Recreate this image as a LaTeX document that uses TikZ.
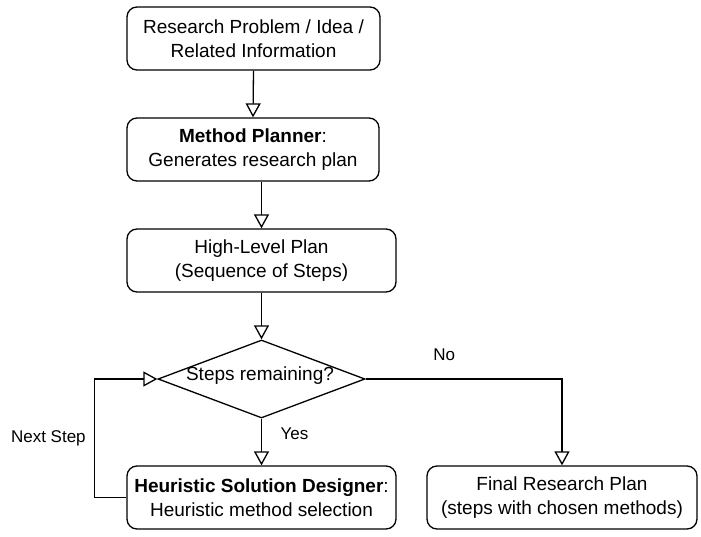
\documentclass[tikz,border=0pt]{standalone}
\usepackage{fontspec}
\setmainfont{Liberation Sans}
\usetikzlibrary{arrows.meta,shapes.geometric,calc}
\begin{document}
\begin{tikzpicture}[x=1pt,y=-1pt,
  every node/.style={font=\fontsize{19}{23.5}\selectfont, align=center},
  box/.style={draw, rounded corners=10pt, line width=1.3pt, minimum height=63pt, inner sep=0pt},
  decision/.style={draw, diamond, line width=1.3pt, minimum width=207pt, minimum height=78pt, inner sep=0pt, aspect=2.65},
  flow/.style={draw, line width=1.3pt, -{Triangle[open, length=14pt, width=15pt, fill=white]}},
  lbl/.style={inner sep=0pt, font=\fontsize{17}{20}\selectfont}]
\useasboundingbox (0,0) rectangle (701,537);
\node[box, minimum width=253pt] (b1) at (253.5,38.5) {Research Problem / Idea /\\Related Information};
\node[box, minimum width=252pt] (b2) at (253,149.5) {\textbf{Method Planner}:\\Generates research plan};
\node[box, minimum width=269pt] (b3) at (261.5,260.5) {High-Level Plan\\(Sequence of Steps)};
\node[decision] (d) at (261.5,379) {};
\node[inner sep=0pt] (dt) at (260,376) {Steps remaining?};
\node[box, minimum width=269pt] (b4) at (261.5,497.5) {\textbf{Heuristic Solution Designer}:\\Heuristic method selection};
\node[box, minimum width=270pt] (b5) at (562,497.5) {Final Research Plan\\(steps with chosen methods)};
\draw[flow] (b1.south) -- (b2.north);
\draw[flow] (b3.north |- b2.south) -- (b3.north);
\draw[flow] (b3.south) -- (d.north);
\draw[flow] (d.south) -- (b4.north) node[lbl, pos=0.33, anchor=west, xshift=18.5pt] {Yes};
\draw[flow] (d.east) -| (b5.north) node[lbl, pos=0.2, yshift=24pt] {No};
\draw[flow] (b4.west) -- ++(-32,0) |- (d.west) node[lbl, pos=0.25, anchor=east, xshift=-8pt] {Next Step};
\end{tikzpicture}
\end{document}
